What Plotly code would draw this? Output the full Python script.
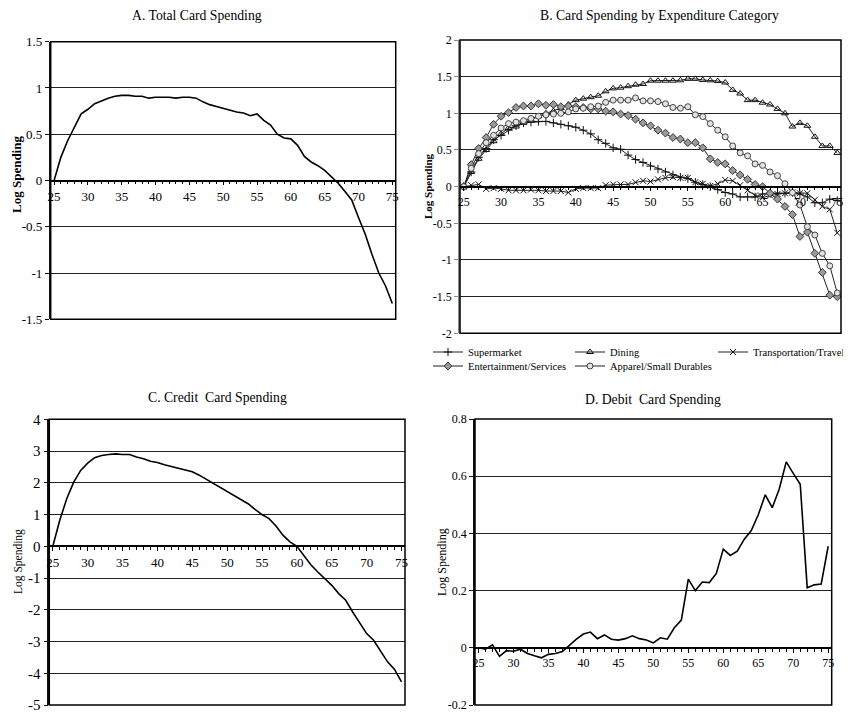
import plotly.graph_objects as go

# The page body has an 8px margin, so the figure is drawn 8px in from the corner.
OFF = 8
W, H = 851 - OFF, 715 - OFF
FONT = "Liberation Serif"

ages = list(range(25, 76))

total_card = [0.00, 0.25, 0.43, 0.57, 0.72, 0.77, 0.83, 0.86, 0.89, 0.91,
              0.92, 0.92, 0.91, 0.91, 0.89, 0.90, 0.90, 0.90, 0.89, 0.90,
              0.90, 0.89, 0.85, 0.82, 0.80, 0.78, 0.76, 0.74, 0.73, 0.70,
              0.72, 0.65, 0.60, 0.50, 0.46, 0.45, 0.38, 0.26, 0.20, 0.16,
              0.11, 0.04, -0.03, -0.12, -0.21, -0.40, -0.58, -0.80, -1.00, -1.14,
              -1.33]

supermarket = [0, 0.20, 0.40, 0.52, 0.64, 0.70, 0.77, 0.83, 0.87, 0.88,
               0.89, 0.89, 0.87, 0.85, 0.83, 0.81, 0.77, 0.72, 0.64, 0.59,
               0.53, 0.51, 0.43, 0.37, 0.33, 0.28, 0.24, 0.20, 0.16, 0.13,
               0.11, 0.06, 0.03, 0.00, -0.04, -0.08, -0.10, -0.14, -0.14, -0.14,
               -0.10, -0.09, -0.09, -0.09, -0.08, -0.10, -0.14, -0.22, -0.22, -0.17,
               -0.19]
dining = [0, 0.20, 0.38, 0.50, 0.62, 0.72, 0.80, 0.82, 0.87, 0.91,
          0.96, 1.00, 1.03, 1.07, 1.12, 1.18, 1.20, 1.22, 1.24, 1.30,
          1.34, 1.35, 1.37, 1.39, 1.40, 1.445, 1.445, 1.445, 1.445, 1.45,
          1.47, 1.47, 1.455, 1.45, 1.44, 1.42, 1.32, 1.27, 1.18, 1.18,
          1.145, 1.12, 1.06, 1.00, 0.82, 0.87, 0.83, 0.68, 0.555, 0.555,
          0.46]
transport = [0, 0.02, 0.03, -0.03, -0.02, -0.03, -0.05, -0.05, -0.05, -0.04,
             -0.05, -0.06, -0.06, -0.06, -0.08, -0.03, -0.02, -0.02, -0.02, 0.02,
             0.03, 0.03, 0.03, 0.06, 0.08, 0.07, 0.10, 0.12, 0.13, 0.12,
             0.12, 0.06, 0.04, 0.01, 0.04, 0.09, 0.08, 0.02, -0.05, -0.12,
             -0.15, -0.12, -0.10, -0.09, -0.08, -0.09, -0.09, -0.18, -0.27, -0.31,
             -0.63]
entertainment = [0, 0.30, 0.52, 0.67, 0.85, 0.96, 1.01, 1.08, 1.10, 1.10,
                 1.13, 1.11, 1.12, 1.09, 1.10, 1.09, 1.08, 1.06, 1.06, 1.03,
                 1.02, 0.99, 0.97, 0.92, 0.87, 0.83, 0.77, 0.73, 0.67, 0.65,
                 0.60, 0.60, 0.53, 0.38, 0.33, 0.31, 0.22, 0.16, 0.10, 0.03,
                 0.00, -0.09, -0.17, -0.27, -0.38, -0.68, -0.62, -0.91, -1.17, -1.48,
                 -1.50]
apparel = [0, 0.25, 0.45, 0.60, 0.70, 0.80, 0.86, 0.88, 0.90, 0.93,
           0.96, 0.98, 0.99, 1.00, 1.02, 1.06, 1.07, 1.09, 1.10, 1.15,
           1.18, 1.18, 1.18, 1.21, 1.17, 1.17, 1.16, 1.13, 1.08, 1.07,
           1.09, 0.98, 0.955, 0.86, 0.77, 0.68, 0.555, 0.46, 0.42, 0.31,
           0.29, 0.20, 0.15, 0.04, -0.08, -0.25, -0.545, -0.66, -0.91, -1.08,
           -1.45]

credit_card = [0, 0.82, 1.50, 2.02, 2.39, 2.62, 2.79, 2.86, 2.89, 2.91,
               2.89, 2.89, 2.81, 2.76, 2.68, 2.64, 2.57, 2.52, 2.46, 2.42,
               2.35, 2.24, 2.11, 2.00, 1.85, 1.73, 1.60, 1.47, 1.34, 1.16,
               1.00, 0.87, 0.64, 0.35, 0.14, 0.00, -0.28, -0.58, -0.81, -1.02,
               -1.23, -1.49, -1.70, -2.07, -2.43, -2.75, -2.96, -3.32, -3.64, -3.88,
               -4.27]

debit_card = [0, -0.005, 0.01, -0.03, -0.01, -0.012, -0.005, -0.02, -0.028, -0.035,
              -0.023, -0.02, -0.013, 0.01, 0.03, 0.048, 0.055, 0.032, 0.045, 0.03,
              0.027, 0.032, 0.042, 0.032, 0.027, 0.017, 0.035, 0.03, 0.07, 0.097,
              0.24, 0.20, 0.23, 0.228, 0.26, 0.345, 0.323, 0.338, 0.38, 0.41,
              0.465, 0.535, 0.49, 0.555, 0.65, 0.61, 0.572, 0.21, 0.22, 0.223,
              0.355]

xtick_vals = [25, 30, 35, 40, 45, 50, 55, 60, 65, 70, 75]
xtick_text = ["25", "30", "35", "40", "45", "50", "55", "60", "65", "70", "75"]

ytick_a = [-1.5, -1, -0.5, 0, 0.5, 1, 1.5]
ytext_a = ["-1.5", "-1", "-0.5", "0", "0.5", "1", "1.5"]
ytick_b = [-2, -1.5, -1, -0.5, 0, 0.5, 1, 1.5, 2]
ytext_b = ["-2", "-1.5", "-1", "-0.5", "0", "0.5", "1", "1.5", "2"]
ytick_c = [-5, -4, -3, -2, -1, 0, 1, 2, 3, 4]
ytext_c = ["-5", "-4", "-3", "-2", "-1", "0", "1", "2", "3", "4"]
ytick_d = [-0.2, 0, 0.2, 0.4, 0.6, 0.8]
ytext_d = ["-0.2", "0", "0.2", "0.4", "0.6", "0.8"]

# panel boxes in screen pixels: (left, right, top, bottom)
boxes = {
    "A": (50.7, 395.7, 41.7, 319.3),
    "B": (460.0, 841.0, 40.0, 333.3),
    "C": (49.3, 405.0, 419.3, 705.0),
    "D": (475.0, 831.7, 419.0, 705.0),
}


def px(x):
    return (x - OFF) / W


def py(y):
    return 1 - (y - OFF) / H


def dom(b):
    l, r, t, bt = b
    return [px(l), px(r)], [py(bt), py(t)]


fig = go.Figure()

line_kw = dict(color="black", width=1.6)
fig.add_trace(go.Scatter(x=ages, y=total_card, mode="lines", line=line_kw,
                         xaxis="x", yaxis="y", showlegend=False))

bl = dict(color="#222", width=1)
fig.add_trace(go.Scatter(x=ages, y=supermarket, mode="lines+markers", name="Supermarket",
                         line=bl, marker=dict(symbol="cross-thin", size=6,
                                              line=dict(color="#111", width=1)),
                         xaxis="x2", yaxis="y2", legend="legend", legendwidth=97))
fig.add_trace(go.Scatter(x=ages, y=dining, mode="lines+markers", name="Dining",
                         line=bl, marker=dict(symbol="triangle-up-open", size=6, color="#111",
                                              line=dict(color="#111", width=1)),
                         xaxis="x2", yaxis="y2", legend="legend", legendwidth=98))
fig.add_trace(go.Scatter(x=ages, y=transport, mode="lines+markers", name="Transportation/Travel",
                         line=bl, marker=dict(symbol="x-thin", size=6,
                                              line=dict(color="#111", width=1)),
                         xaxis="x2", yaxis="y2", legend="legend", legendwidth=110))
fig.add_trace(go.Scatter(x=ages, y=entertainment, mode="lines+markers", name="Entertainment/Services",
                         line=bl, marker=dict(symbol="diamond", size=6, color="#9a9a9a",
                                              line=dict(color="#333", width=1)),
                         xaxis="x2", yaxis="y2", legend="legend2", legendwidth=97))
fig.add_trace(go.Scatter(x=ages, y=apparel, mode="lines+markers", name="Apparel/Small Durables",
                         line=bl, marker=dict(symbol="circle", size=6, color="#e2e2e2",
                                              line=dict(color="#444", width=1)),
                         xaxis="x2", yaxis="y2", legend="legend2", legendwidth=130))

fig.add_trace(go.Scatter(x=ages, y=credit_card, mode="lines", line=line_kw,
                         xaxis="x3", yaxis="y3", showlegend=False))
fig.add_trace(go.Scatter(x=ages, y=debit_card, mode="lines", line=line_kw,
                         xaxis="x4", yaxis="y4", showlegend=False))

panels = [
    ("A", "", ytick_a, ytext_a, 13, 13, "#111"),
    ("B", "2", ytick_b, ytext_b, 12, 12, "#888"),
    ("C", "3", ytick_c, ytext_c, 13, 15, "#111"),
    ("D", "4", ytick_d, ytext_d, 12, 12, "#111"),
]

layout_axes = {}
for key, sfx, yv, yt, xfs, yfs, ylc in panels:
    xd, yd = dom(boxes[key])
    ymin, ymax = yv[0], yv[-1]
    zero_pos = yd[0] + (0 - ymin) / (ymax - ymin) * (yd[1] - yd[0])
    layout_axes["xaxis" + sfx] = dict(
        domain=xd, range=[24.5, 75.5], anchor="free", position=zero_pos, automargin=False,
        showgrid=False, zeroline=False, showline=True, linecolor="black", linewidth=1.5,
        tickmode="array", tickvals=xtick_vals, ticktext=xtick_text,
        ticks="outside", ticklen=4, tickcolor="black", tickwidth=1,
        minor=dict(dtick=1, tick0=25, ticks="outside", ticklen=3, tickcolor="black", showgrid=False),
        tickfont=dict(family=FONT, size=xfs, color="black"),
    )
    layout_axes["yaxis" + sfx] = dict(
        domain=yd, range=[ymin, ymax], anchor="x" + sfx, automargin=False,
        tickmode="array", tickvals=yv, ticktext=yt,
        showgrid=True, gridcolor="#222", gridwidth=1.3, zeroline=False,
        showline=True, linecolor=ylc, linewidth=1.5,
        ticks="outside", ticklen=4, tickcolor=ylc,
        tickfont=dict(family=FONT, size=yfs, color="black"),
    )

shapes = []
for key, sfx, *_ in panels:
    xr = ("x" + sfx if sfx else "x") + " domain"
    yr = ("y" + sfx if sfx else "y") + " domain"
    shapes.append(dict(type="rect", xref=xr, yref=yr, x0=0, x1=1, y0=0, y1=1,
                       line=dict(color="black", width=1.5), layer="above"))

annotations = []
titles = [
    ("A. Total Card Spending", 197, 16),
    ("B. Card Spending by Expenditure Category", 659, 16),
    ("C. Credit  Card Spending", 217, 398),
    ("D. Debit  Card Spending", 653, 399),
]
for txt, x, y in titles:
    annotations.append(dict(text=txt, x=px(x), y=py(y), xref="paper", yref="paper",
                            showarrow=False, xanchor="center", yanchor="middle",
                            font=dict(family=FONT, size=13.7, color="black")))

ylabels = [
    ("<b>Log Spending</b>", 16, 175, 13),
    ("<b>Log Spending</b>", 428, 186, 11),
    ("Log Spending", 18, 562, 11.5),
    ("Log Spending", 442, 562, 12),
]
for txt, x, y, fs in ylabels:
    annotations.append(dict(text=txt, x=px(x), y=py(y), xref="paper", yref="paper",
                            showarrow=False, xanchor="center", yanchor="middle", textangle=-90,
                            font=dict(family=FONT, size=fs, color="black")))

leg_common = dict(orientation="h", xanchor="left", yanchor="middle",
                  itemwidth=30,
                  font=dict(family=FONT, size=10.5, color="black"),
                  bgcolor="rgba(0,0,0,0)", borderwidth=0, tracegroupgap=0)

fig.update_layout(
    template="none",
    width=W, height=H,
    margin=dict(l=0, r=0, t=0, b=0, pad=0, autoexpand=False),
    paper_bgcolor="white", plot_bgcolor="white",
    font=dict(family=FONT, color="black"),
    showlegend=True,
    legend=dict(x=px(428), y=py(352), **leg_common),
    legend2=dict(x=px(428), y=py(366), **leg_common),
    shapes=shapes,
    annotations=annotations,
    **layout_axes,
)

fig.write_html("out.html")
